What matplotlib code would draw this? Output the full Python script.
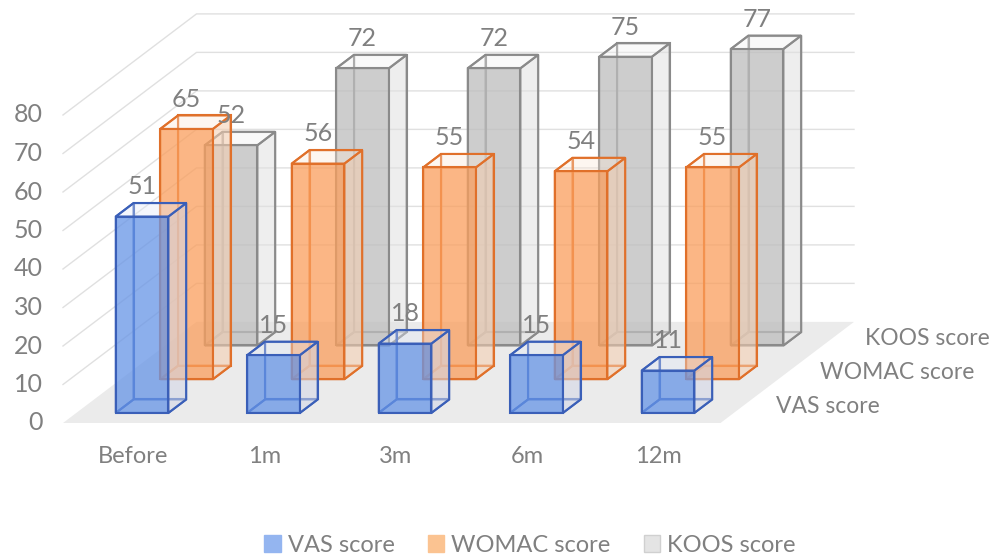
import matplotlib
matplotlib.use('Agg')
import matplotlib.pyplot as plt
from matplotlib.patches import Polygon, Patch

# -----------------------------------------------
# -             DATA                            -
# -----------------------------------------------
categories = ['Before', '1m', '3m', '6m', '12m']
series_names = ['VAS score', 'WOMAC score', 'KOOS score']
vas = [51, 15, 18, 15, 11]
womac = [65, 56, 55, 54, 55]
koos = [52, 72, 72, 75, 77]
y_ticks = [0, 10, 20, 30, 40, 50, 60, 70, 80]

series_values = [vas, womac, koos]

# -----------------------------------------------
# -             STYLE                           -
# -----------------------------------------------
front_col = [(0.40, 0.58, 0.90, 0.75), (0.98, 0.62, 0.36, 0.75), (0.74, 0.74, 0.74, 0.75)]
side_col = [(0.82, 0.84, 0.90, 0.55), (0.96, 0.80, 0.68, 0.55), (0.88, 0.88, 0.88, 0.55)]
top_col = [(0.88, 0.91, 0.97, 0.35), (0.99, 0.90, 0.83, 0.35), (0.94, 0.94, 0.94, 0.35)]
edge_col = ['#3a5fb8', '#e0702a', '#8a8a8a']
legend_col = ['#94b5f0', '#fbc391', '#e4e4e4']
txt = '#808080'
grid = '#e0e0e0'
floor_col = '#ebebeb'

plt.rcParams['font.family'] = ['Lato', 'DejaVu Sans']

# oblique projection: one depth unit moves right and up
DX = 44.5 / 131.5
DY = 33.7 / 3.85
N_ROWS = len(series_names)
N_CAT = len(categories)


def proj(x, d, v):
    return (x + d * DX, v + d * DY)


fig = plt.figure(figsize=(10.05, 5.57), dpi=100)
ax = fig.add_axes([0, 0, 1, 1])
ax.set_xlim(-63 / 131.5, (1005 - 63) / 131.5)
ax.set_ylim((423 - 557) / 3.85, 423 / 3.85)
ax.set_axis_off()

# floor
ax.add_patch(Polygon([proj(0, 0, 0), proj(N_CAT, 0, 0), proj(N_CAT, N_ROWS, 0), proj(0, N_ROWS, 0)],
                     closed=True, facecolor=floor_col, edgecolor='none', zorder=1))

# walls gridlines
for t in y_ticks[1:]:
    p0 = proj(0, 0, t)
    p1 = proj(0, N_ROWS, t)
    p2 = proj(N_CAT, N_ROWS, t)
    ax.plot([p0[0], p1[0], p2[0]], [p0[1], p1[1], p2[1]], color=grid, lw=1.0, zorder=2)

# y tick labels
for t in y_ticks:
    ax.text(-0.152, t, str(t), ha='right', va='center', fontsize=18, color=txt)

# category labels
for i, c in enumerate(categories):
    ax.text(i + 0.53, -8.8, c, ha='center', va='center', fontsize=17, color=txt)

# series labels along right edge of floor
for r, name in enumerate(series_names):
    px, py = proj(N_CAT, r + 0.5, 0)
    ax.text(px + 0.25, py, name, ha='left', va='center', fontsize=16.5, color=txt)


def draw_box(i, r, v, z):
    x0, x1 = i + 0.3, i + 0.7
    d0, d1 = r + 0.3, r + 0.7
    ec = edge_col[r]
    faces = [
        # back, left, bottom
        ([proj(x0, d1, 0), proj(x1, d1, 0), proj(x1, d1, v), proj(x0, d1, v)], (1, 1, 1, 0.05)),
        ([proj(x0, d0, 0), proj(x0, d1, 0), proj(x0, d1, v), proj(x0, d0, v)], (1, 1, 1, 0.05)),
        ([proj(x0, d0, 0), proj(x1, d0, 0), proj(x1, d1, 0), proj(x0, d1, 0)], (1, 1, 1, 0.05)),
        # right side, top, front
        ([proj(x1, d0, 0), proj(x1, d1, 0), proj(x1, d1, v), proj(x1, d0, v)], side_col[r]),
        ([proj(x0, d0, v), proj(x1, d0, v), proj(x1, d1, v), proj(x0, d1, v)], top_col[r]),
        ([proj(x0, d0, 0), proj(x1, d0, 0), proj(x1, d0, v), proj(x0, d0, v)], front_col[r]),
    ]
    for k, (pts, fc) in enumerate(faces):
        ax.add_patch(Polygon(pts, closed=True, facecolor=fc, edgecolor=ec, lw=1.5,
                             joinstyle='miter', zorder=z + k * 0.01))


# draw back rows first
for r in reversed(range(N_ROWS)):
    for i in range(N_CAT):
        draw_box(i, r, series_values[r][i], 10 + (N_ROWS - r) * 10 + i * 0.1)

# value labels
for r in range(N_ROWS):
    for i, v in enumerate(series_values[r]):
        lx = i + 0.5 + (r + 0.3) * DX
        ly = v + (r + 0.7) * DY + 4.2
        ax.text(lx, ly, str(v), ha='center', va='center', fontsize=18, color=txt, zorder=100)

# legend
handles = [Patch(facecolor=legend_col[k], edgecolor='#d0d0d0' if k == 2 else legend_col[k], label=series_names[k])
           for k in range(N_ROWS)]
fig.legend(handles=handles, loc='center', bbox_to_anchor=(530 / 1005, 1 - 545 / 557), ncol=3,
           frameon=False, fontsize=17, handlelength=0.7, handleheight=0.7, handletextpad=0.3,
           columnspacing=1.4, labelcolor=txt)

fig.savefig('out.png', dpi=100)
